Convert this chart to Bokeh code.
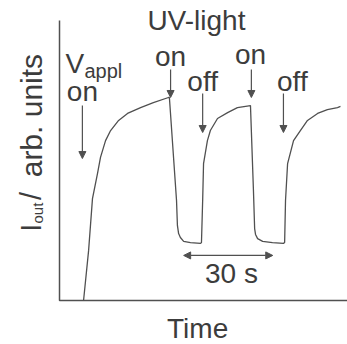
import math
from bokeh.plotting import figure
from bokeh.models import Range1d, Label, Arrow, NormalHead, ColumnDataSource
from bokeh.embed import file_html
from bokeh.resources import INLINE

# ---- data ----
time_s = [8.1, 9.8, 11.1, 12.8, 13.8, 15.5, 17.2, 19.9, 22.9, 27.3, 31.6, 36.7, 37.0,
          39.4, 39.7, 40.1, 40.7, 41.8, 44.1, 47.5,
          47.8, 48.2, 48.5, 49.8, 50.8, 53.2, 56.6, 59.9, 64.3,
          65.3, 65.7, 66.0, 66.7, 68.4, 71.7, 75.4,
          75.8, 76.1, 76.8, 78.8, 81.1, 83.5, 86.9, 90.2, 93.6, 94.6]
i_out = [0.0, 17.9, 36.4, 45.4, 51.1, 57.1, 60.7, 64.3, 66.8, 68.9, 70.7, 72.5, 72.5,
         35.7, 26.8, 23.9, 22.5, 21.1, 20.7, 20.4,
         20.7, 35.7, 48.9, 57.1, 60.7, 65.0, 67.1, 68.9, 69.6,
         39.3, 25.7, 23.6, 22.1, 21.1, 20.7, 20.4,
         20.7, 35.7, 48.9, 57.1, 60.7, 64.3, 66.8, 68.2, 68.9, 69.3]
v_appl_on_time = 7.7
uv_on_times = [37.4, 64.6]
uv_off_times = [48.2, 75.4]
scale_bar_start = 41.8
scale_bar_len = 30.0
t_axis_end = 96.97
i_axis_top = 100.0

INK = "#3c3c3c"
LINE = "#505050"
FONT = "Liberation Sans"

p = figure(width=347, height=344, x_range=Range1d(-19.87, 96.97), y_range=Range1d(-15.71, 107.14),
           output_backend="svg", toolbar_location=None,
           min_border=0)
p.grid.visible = False
p.axis.visible = False
p.outline_line_color = None

# axis lines
p.line([0, 0, t_axis_end], [i_axis_top, 0, 0], line_color=LINE, line_width=1.5)

src = ColumnDataSource(data=dict(t=time_s, i=i_out))
p.line("t", "i", source=src, line_color=LINE, line_width=1.3)

def arrow(x0, y0, x1, y1, both=False):
    head = lambda: NormalHead(size=7, fill_color=LINE, line_color=LINE, line_width=1)
    a = Arrow(x_start=x0, y_start=y0, x_end=x1, y_end=y1, line_color=LINE, line_width=1.2,
              end=head(), start=head() if both else None)
    p.add_layout(a)

arrow(v_appl_on_time, 69.6, v_appl_on_time, 50.7)
for t in uv_on_times:
    arrow(t, 82.5, t, 72.5)
for t in uv_off_times:
    arrow(t, 73.9, t, 60.0)
arrow(scale_bar_start, 16.1, scale_bar_start + scale_bar_len, 16.1, both=True)

def lab(text, x, y, size=28, align="center", angle=0.0):
    p.add_layout(Label(x=x, y=y, text=text, text_font=FONT, text_font_size=f"{size}px",
                       text_color=INK, text_align=align, text_baseline="alphabetic",
                       angle=angle))

lab("UV-light", 46.1, 100.0)
lab("V", 2.0, 84.6, align="left")
lab("appl", 8.4, 81.9, size=20, align="left")
lab("on", v_appl_on_time, 74.6)
lab("on", uv_on_times[0], 87.1)
lab("on", uv_on_times[1] - 0.3, 87.8)
lab("off", uv_off_times[0], 78.2)
lab("off", uv_off_times[1] + 3.0, 78.2)
lab("30 s", 57.9, 9.6)
lab("Time", 46.5, -10.0)
# rotated y label: I_out / arb. units
lab("I", -9.6, 24.6, size=29, align="left", angle=math.pi / 2)
lab("out", -7.5, 27.5, size=15, align="left", angle=math.pi / 2)
lab("/", -9.6, 35.9, size=29, align="left", angle=math.pi / 2)
lab("arb. units", -9.6, 44.0, size=30, align="left", angle=math.pi / 2)

open("out.html", "w").write(file_html(p, INLINE))
